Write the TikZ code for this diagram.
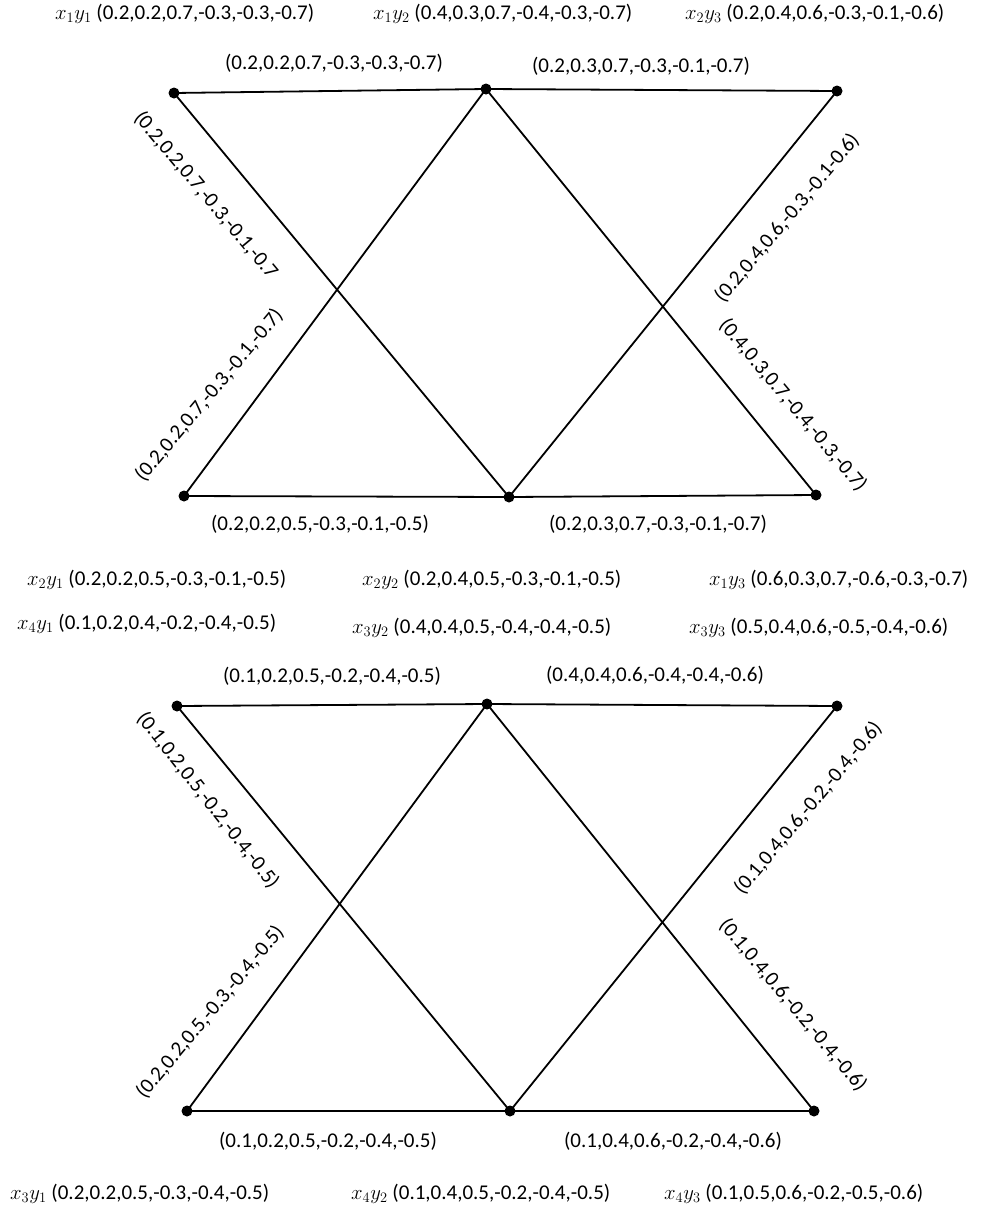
\documentclass[tikz,border=0pt]{standalone}
\usepackage{fontspec}
\setmainfont{Carlito}
\begin{document}
\begin{tikzpicture}[x=1pt,y=-1pt,
  dot/.style={circle,fill=black,inner sep=0pt,minimum size=11pt},
  edge/.style={line width=1.8pt},
  lab/.style={font=\fontsize{21}{25}\selectfont,inner sep=0pt}]
\useasboundingbox (0,0) rectangle (981,1213);
% ---------- top graph ----------
\node[dot] (a1) at (174,93) {};
\node[dot] (a2) at (486,89) {};
\node[dot] (a3) at (837,91) {};
\node[dot] (a4) at (184,496) {};
\node[dot] (a5) at (509,497) {};
\node[dot] (a6) at (816,495) {};
\draw[edge] (a1.center) -- (a2.center) -- (a3.center);
\draw[edge] (a4.center) -- (a5.center) -- (a6.center);
\draw[edge] (a1.center) -- (a5.center);
\draw[edge] (a4.center) -- (a2.center);
\draw[edge] (a2.center) -- (a6.center);
\draw[edge] (a5.center) -- (a3.center);
% top labels
\node[lab,anchor=west] (t1) at (55,14) {$x_1y_1$ (0.2,0.2,0.7,-0.3,-0.3,-0.7)};
\node[lab,anchor=west] (t2) at (373,14) {$x_1y_2$ (0.4,0.3,0.7,-0.4,-0.3,-0.7)};
\node[lab,anchor=west] (t3) at (685,14) {$x_2y_3$ (0.2,0.4,0.6,-0.3,-0.1,-0.6)};
\node[lab] (e1) at (334,63) {(0.2,0.2,0.7,-0.3,-0.3,-0.7)};
\node[lab] (e2) at (641,66) {(0.2,0.3,0.7,-0.3,-0.1,-0.7)};
\node[lab,rotate=-50] (e3) at (206,195) {(0.2,0.2,0.7,-0.3,-0.1,-0.7};
\node[lab,rotate=50] (e4) at (209,395) {(0.2,0.2,0.7,-0.3,-0.1,-0.7)};
\node[lab,rotate=50] (e5) at (787,218) {(0.2,0.4,0.6,-0.3,-0.1-0.6)};
\node[lab,rotate=-50] (e6) at (793,405) {(0.4,0.3,0.7,-0.4,-0.3,-0.7)};
\node[lab] (e7) at (320,524) {(0.2,0.2,0.5,-0.3,-0.1,-0.5)};
\node[lab] (e8) at (658,524) {(0.2,0.3,0.7,-0.3,-0.1,-0.7)};
% middle rows
\node[lab,anchor=west] (m1) at (27,580) {$x_2y_1$ (0.2,0.2,0.5,-0.3,-0.1,-0.5)};
\node[lab,anchor=west] (m2) at (362,580) {$x_2y_2$ (0.2,0.4,0.5,-0.3,-0.1,-0.5)};
\node[lab,anchor=west] (m3) at (709,580) {$x_1y_3$ (0.6,0.3,0.7,-0.6,-0.3,-0.7)};
\node[lab,anchor=west] (m4) at (17,624) {$x_4y_1$ (0.1,0.2,0.4,-0.2,-0.4,-0.5)};
\node[lab,anchor=west] (m5) at (352,628) {$x_3y_2$ (0.4,0.4,0.5,-0.4,-0.4,-0.5)};
\node[lab,anchor=west] (m6) at (689,628) {$x_3y_3$ (0.5,0.4,0.6,-0.5,-0.4,-0.6)};
% ---------- bottom graph ----------
\node[dot] (b1) at (177,706) {};
\node[dot] (b2) at (487,704) {};
\node[dot] (b3) at (837,706) {};
\node[dot] (b4) at (187,1111) {};
\node[dot] (b5) at (510,1111) {};
\node[dot] (b6) at (814,1111) {};
\draw[edge] (b1.center) -- (b2.center) -- (b3.center);
\draw[edge] (b4.center) -- (b5.center) -- (b6.center);
\draw[edge] (b1.center) -- (b5.center);
\draw[edge] (b4.center) -- (b2.center);
\draw[edge] (b2.center) -- (b6.center);
\draw[edge] (b5.center) -- (b3.center);
\node[lab] (f1) at (332,676) {(0.1,0.2,0.5,-0.2,-0.4,-0.5)};
\node[lab] (f2) at (655,675) {(0.4,0.4,0.6,-0.4,-0.4,-0.6)};
\node[lab,rotate=-52] (f3) at (208,800) {(0.1,0.2,0.5,-0.2,-0.4,-0.5)};
\node[lab,rotate=50] (f4) at (210,1012) {(0.2,0.2,0.5,-0.3,-0.4,-0.5)};
\node[lab,rotate=50] (f5) at (808,808) {(0.1,0.4,0.6,-0.2,-0.4,-0.6)};
\node[lab,rotate=-50] (f6) at (793,1005) {(0.1,0.4,0.6,-0.2,-0.4,-0.6)};
\node[lab] (f7) at (328,1141) {(0.1,0.2,0.5,-0.2,-0.4,-0.5)};
\node[lab] (f8) at (673,1141) {(0.1,0.4,0.6,-0.2,-0.4,-0.6)};
% bottom row
\node[lab,anchor=west] (n1) at (10,1194) {$x_3y_1$ (0.2,0.2,0.5,-0.3,-0.4,-0.5)};
\node[lab,anchor=west] (n2) at (351,1194) {$x_4y_2$ (0.1,0.4,0.5,-0.2,-0.4,-0.5)};
\node[lab,anchor=west] (n3) at (664,1194) {$x_4y_3$ (0.1,0.5,0.6,-0.2,-0.5,-0.6)};
\end{tikzpicture}
\end{document}
